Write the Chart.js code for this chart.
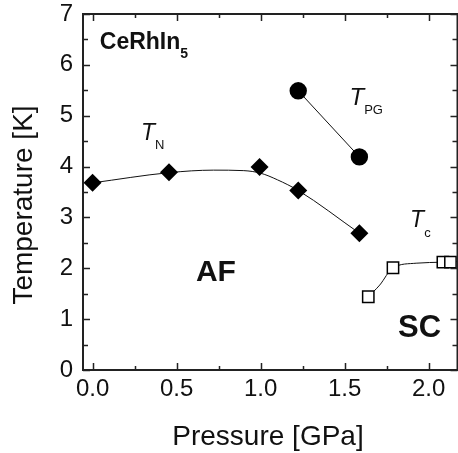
<!DOCTYPE html>
<html>
<head>
<meta charset="utf-8">
<script src="https://cdn.jsdelivr.net/npm/chart.js@4/dist/chart.umd.min.js"></script>
<style>
html, body { margin: 0; padding: 0; background: #fff; overflow: hidden; }
#wrap { width: 467px; height: 453px; }
</style>
</head>
<body>
<div id="wrap"><canvas id="phase_chart"></canvas></div>
<script>
// values
const tnPressure = [0.0, 0.455, 0.994, 1.224, 1.588];
const tnTemp     = [3.68, 3.89, 3.99, 3.53, 2.69];
// hand-drawn guide line through T_N
const tnLineP = [0.0, 0.455, 0.72, 0.9, 1.0, 1.1, 1.224, 1.588];
const tnLineT = [3.68, 3.88, 3.93, 3.92, 3.87, 3.74, 3.53, 2.69];

const pgPressure = [1.224, 1.588];
const pgTemp     = [5.49, 4.19];

const tcPressure = [1.641, 1.788, 2.085, 2.13];
const tcTemp     = [1.44, 2.01, 2.12, 2.12];
const tcLineP = [1.641, 1.709, 1.788, 1.926, 2.085, 2.17];
const tcLineT = [1.44, 1.67, 2.01, 2.10, 2.12, 2.13];

const xTicks = [0, 0.5, 1.0, 1.5, 2.0];
const xMinor = [0.25, 0.75, 1.25, 1.75];
const yTicks = [0, 1, 2, 3, 4, 5, 6, 7];
const yMinor = [0.5, 1.5, 2.5, 3.5, 4.5, 5.5, 6.5];

const FONT = "'Liberation Sans', Arial, sans-serif";

function pts(xs, ys) {
	return xs.map(function(x, i) { return {x: x, y: ys[i]}; });
}

// frame, inward ticks, axis titles and text labels
const decor = {
	id: 'decor',
	afterDraw: function(chart) {
		const ctx = chart.ctx;
		const a = chart.chartArea;
		const xs = chart.scales.x, ys = chart.scales.y;
		ctx.save();
		ctx.strokeStyle = '#222';
		ctx.lineWidth = 2;
		ctx.strokeRect(a.left, a.top, a.right - a.left, a.bottom - a.top);
		ctx.lineWidth = 1.5;
		ctx.beginPath();
		function xt(v, len) {
			const p = Math.round(xs.getPixelForValue(v)) + 0.5;
			ctx.moveTo(p, a.bottom); ctx.lineTo(p, a.bottom - len);
			ctx.moveTo(p, a.top); ctx.lineTo(p, a.top + len);
		}
		function yt(v, len) {
			const p = Math.round(ys.getPixelForValue(v)) + 0.5;
			ctx.moveTo(a.left, p); ctx.lineTo(a.left + len, p);
			ctx.moveTo(a.right, p); ctx.lineTo(a.right - len, p);
		}
		xTicks.forEach(function(v) { xt(v, 7); });
		xMinor.forEach(function(v) { xt(v, 4); });
		yTicks.forEach(function(v) { yt(v, 7); });
		yMinor.forEach(function(v) { yt(v, 5); });
		ctx.stroke();

		// axis titles
		ctx.fillStyle = '#111';
		ctx.font = '28px ' + FONT;
		ctx.textAlign = 'center';
		ctx.textBaseline = 'alphabetic';
		ctx.fillText('Pressure [GPa]', 268, 445);
		ctx.save();
		ctx.translate(32, 205);
		ctx.rotate(-Math.PI / 2);
		ctx.fillText('Temperature [K]', 0, 0);
		ctx.restore();

		// labels inside the plot
		ctx.textAlign = 'left';
		function lab(text, sub, x, y, font, subFont, dy) {
			const px = xs.getPixelForValue(x), py = ys.getPixelForValue(y);
			ctx.font = font;
			ctx.fillText(text, px, py);
			if (sub) {
				const w = ctx.measureText(text).width;
				ctx.font = subFont;
				ctx.fillText(sub, px + w, py + dy);
			}
		}
		lab('CeRhIn', '5', 0.043, 6.305, 'bold 23px ' + FONT, 'bold 14px ' + FONT, 8.5);
		lab('T', 'N', 0.288, 4.522, 'italic 23px ' + FONT, '13px ' + FONT, 9);
		lab('T', 'PG', 1.529, 5.21, 'italic 24px ' + FONT, '13px ' + FONT, 8.5);
		lab('T', 'c', 1.89, 2.818, 'italic 23px ' + FONT, '13px ' + FONT, 10.5);
		lab('AF', null, 0.615, 1.75, 'bold 30px ' + FONT);
		lab('SC', null, 1.818, 0.643, 'bold 31px ' + FONT);
		ctx.restore();
	}
};

var context = document.getElementById('phase_chart').getContext('2d');
var phase_chart = new Chart(context, {
	type: 'scatter',
	data: {
		datasets: [
			{ // T_N markers
				data: pts(tnPressure, tnTemp),
				pointStyle: 'rectRot', pointRadius: 9,
				backgroundColor: '#000', borderColor: '#000', borderWidth: 0,
				order: 0
			},
			{
				data: pts(tnLineP, tnLineT),
				showLine: true, pointRadius: 0,
				borderColor: '#111', borderWidth: 1,
				cubicInterpolationMode: 'monotone',
				order: 2
			},
			{ // T_PG
				data: pts(pgPressure, pgTemp),
				showLine: true, pointStyle: 'circle', pointRadius: 8.7,
				backgroundColor: '#000', pointBorderWidth: 0,
				borderColor: '#111', borderWidth: 1,
				order: 0
			},
			{ // T_c markers
				data: pts(tcPressure, tcTemp),
				pointStyle: 'rect', pointRadius: 8,
				backgroundColor: '#fff', borderColor: '#000', borderWidth: 1.5,
				order: 0
			},
			{
				data: pts(tcLineP, tcLineT),
				showLine: true, pointRadius: 0,
				borderColor: '#111', borderWidth: 1,
				cubicInterpolationMode: 'monotone',
				order: 2
			}
		]
	},
	options: {
		responsive: true,
		maintainAspectRatio: false,
		animation: false,
		layout: { padding: { left: 0, right: 0, top: 14, bottom: 0 } },
		plugins: {
			legend: { display: false },
			tooltip: { enabled: false }
		},
		scales: {
			x: {
				type: 'linear',
				min: -0.057, max: 2.172,
				grid: { display: false, drawTicks: false },
				border: { display: false },
				afterBuildTicks: function(s) { s.ticks = xTicks.map(function(v) { return {value: v}; }); },
				afterFit: function(s) { s.height = 83; s.paddingLeft = 0; s.paddingRight = 0; },
				ticks: {
					padding: 5,
					color: '#111',
					font: { family: FONT, size: 24 },
					maxRotation: 0,
					callback: function(v) { return Number(v).toFixed(1); }
				}
			},
			y: {
				type: 'linear',
				min: 0, max: 7,
				grid: { display: false, drawTicks: false },
				border: { display: false },
				afterBuildTicks: function(s) { s.ticks = yTicks.map(function(v) { return {value: v}; }); },
				afterFit: function(s) { s.width = 83; s.paddingTop = 0; s.paddingBottom = 0; },
				ticks: {
					padding: 10,
					color: '#111',
					font: { family: FONT, size: 24 },
					callback: function(v) { return String(v); }
				}
			}
		}
	},
	plugins: [decor]
});
</script>
</body>
</html>
